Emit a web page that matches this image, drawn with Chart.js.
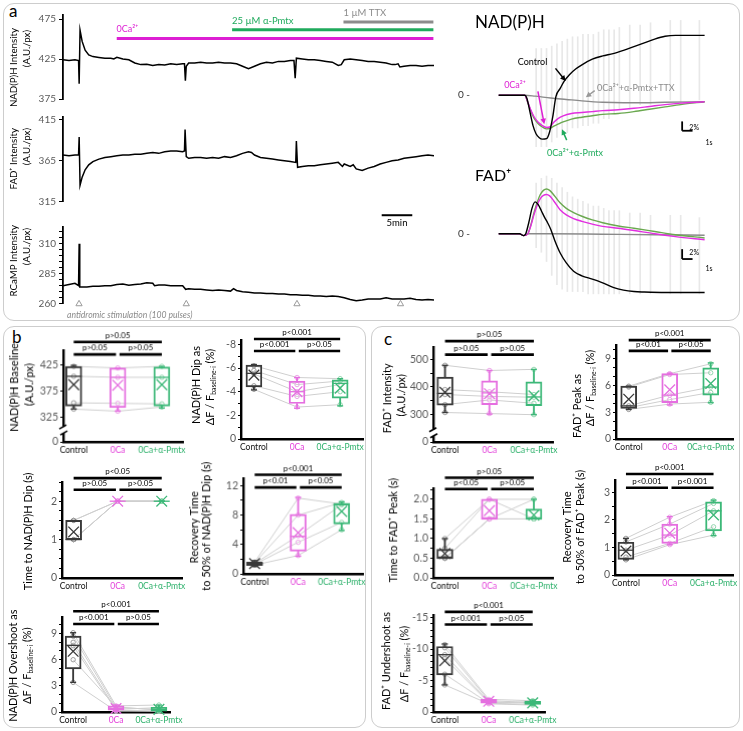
<!DOCTYPE html>
<html><head><meta charset="utf-8"><title>NAD(P)H / FAD+ figure</title>
<script src="https://cdn.jsdelivr.net/npm/chart.js@4.4.1/dist/chart.umd.min.js"></script>
<style>
html,body{margin:0;padding:0;background:#fff}
body{position:relative;width:743px;height:731px;overflow:hidden;font-family:Lato,sans-serif}
canvas{position:absolute}
.panel{position:absolute;border:1.3px solid #cdcdcd;border-radius:11px;box-sizing:border-box}
.plabel{position:absolute;font-family:Lato;font-size:17px;line-height:17px;color:#000}
</style></head><body>
<div class="panel" style="left:3px;top:3px;width:737px;height:318px"></div>
<div class="panel" style="left:3px;top:326px;width:363px;height:402px"></div>
<div class="panel" style="left:371px;top:326px;width:369px;height:402px"></div>
<div class="plabel" style="left:9px;top:2px">a</div>
<div class="plabel" style="left:12px;top:328px">b</div>
<div class="plabel" style="left:384px;top:330px">c</div>
<script>
// ===================== DATA =====================
// ---- panel a, left: example recording (time in min, intensity A.U./px)
const nadTime = [0,1,2,2.6,2.7,2.85,3.2,3.7,4.3,5,6,7,8,8.5,9,10,11,12,13,14,15,16,17,18,19,20,20.3,20.45,20.6,21,22,23,24,25,26,27,28,29,30,31,32,33,34,35,36,37,38,38.6,38.8,39,40,41,42,43,44,45,46,46.5,47,48,49,50,51,52,53,54,55,55.5,56,56.3,57,58,59,60,61,62];
const nadVal  = [424,423,424,423,394,461,447,436,430,428,427,426,426,425,427,425,424,420,418,418.5,417,418,417.5,419,418,419,419,398,416,420,420,421,420,420,421,420,420,419,416,413,416,419,421,420,422,422,423,423,401,426,425,424,424,423,422,421,417,418,424,425,424,423,422,422,421,420,418,418,419,415,416,417,417,416,417,417];
const fadTime = [0,1,2,2.6,2.7,2.85,3.2,3.7,4.3,5,6,7,8,9,10,11,12,13,14,15,16,17,18,19,20,20.3,20.4,20.6,21,22,23,24,25,26,27,28,29,30,31,31.5,32,33,34,35,36,37,38,38.9,39,39.2,40,41,42,43,44,45,46,46.7,47,48,48.5,49,50,51,52,53,54,55,56,57,58,59,60,61,62];
const fadVal  = [372,371,372,372,394,335,345,354,360,364,367,369,370,371,372,372,373,373,374,375,374,376,377,377,376,377,403,370,368,369,369,368,369,368,370,369,371,374,376,375,372,369,368,367,366,365,364,363,389,357,358,359,359,360,361,362,363,358,361,358,360,355,353,356,358,361,363,365,366,368,369,370,371,372,371];
const rcTime  = [0,1,2,2.6,2.7,2.8,4,5,6,7,8,9,10,11,12,13,14,15,15.3,16,17,18,19,20,20.5,21,22,23,24,25,26,27,28,28.5,29,30,31,32,33,34,35,36,37,38,39,40,41,42,43,44,45,46,47,48,49,50,51,52,53,54,55,56,57,58,59,60,61,62];
const rcVal   = [275,276,277,275,310,274,274,274.5,274.5,275,275,276,276.5,275.5,276,276.5,277.5,277,275,275.5,275.5,275,275,275,272,272.5,272,272,271.5,271,271.5,271,270.5,272.5,271,270,269.5,269,269,268.5,268.5,268,268,267.5,267.5,267,267,266.5,266.5,266,266.5,266,265,263.5,262.5,263,264,264,264,265,264,264,264,264.5,263.5,263,263.5,263];
const nadTicks = [375,425,475];
const fadTicks = [315,365,415];
const rcTicks  = [260,265,270,275,280,285,290,295,300,305,310,315,320];
const rcLabels = ['260','','','','','285','','','','','310','',''];
const drugNames  = ['0Ca²⁺','25 µM α-Pmtx','1 µM TTX'];
const drugStart  = [8.98,28.26,46.87];
const drugEnd    = [61.9,61.9,61.9];
const drugLevel  = [450.6,461.5,471.2];
const stimTimes  = [2.68,20.6,39.1,56.4];
const stimLevel  = 259.8;

// ---- panel a, right: averaged transients (time in s, ΔF/F in %)
const nadCtlT = [0,2.5,2.7,3.0,3.3,3.6,3.9,4.2,4.6,4.9,5.2,5.5,5.9,6.3,6.8,7.4,8,9,10,11,12,13,14,15,16,17,18,19.8];
const nadCtl  = [0,0,-0.6,-3.5,-6.5,-8.3,-9.1,-9.4,-9.3,-7.8,-4.6,-0.3,1.4,3.0,4.4,5.6,6.5,7.7,8.4,8.9,9.6,10.4,11.2,12.0,12.6,12.8,12.8,12.8];
const nadDrT  = [0,2.5,2.8,3.1,3.4,3.8,4.2,4.6,4.9,5.3,5.7,6.2,7,8,9,10,11.5,13,14.5,16,17.5,19.8];
const nad0Ca  = [0,0,-1.5,-3.2,-4.6,-5.8,-6.5,-6.9,-6.8,-5.8,-5.0,-4.4,-3.9,-3.7,-3.5,-3.3,-3.1,-2.8,-2.4,-2.0,-1.7,-1.4];
const nadPmtx = [0,0,-1.6,-3.4,-4.9,-6.1,-6.8,-7.2,-7.1,-6.6,-6.2,-5.7,-5.1,-4.7,-4.4,-4.1,-3.9,-3.5,-3.0,-2.5,-2.0,-1.4];
const nadTtxT = [0,2.5,3.5,5,6.5,8,10,12,14,16,19.8];
const nadTtx  = [0,0,-0.2,-0.6,-0.9,-1.2,-1.5,-1.6,-1.6,-1.5,-1.4];
const fadCtlT = [0,2.0,2.4,2.6,2.9,3.2,3.5,3.8,4.1,4.4,4.7,5.0,5.4,5.9,6.5,7.2,8,9,10,11,12,13,14,16,19.8];
const fadCtl  = [0,0,-0.4,0,2.5,5.5,6.9,6.3,5.0,3.6,2.4,1.0,-1.5,-4.1,-6.3,-8.1,-9.1,-9.8,-10.6,-11.6,-12.2,-12.5,-12.6,-12.7,-12.7];
const fadDrT  = [0,2.0,2.4,2.8,3.1,3.4,3.7,4.0,4.3,4.6,4.9,5.3,5.9,6.5,7.2,8,9,10,11.5,13,15,17,19.8];
const fad0Ca  = [0,0,-0.4,0,1.8,4.2,6.2,7.6,8.3,8.5,8.2,7.1,5.2,4.1,3.3,2.7,2.1,1.6,1.2,0.7,0,-0.6,-1.3];
const fadPmtx = [0,0,-0.4,0,2.0,4.6,6.8,8.5,9.4,9.7,9.4,8.4,6.7,5.5,4.6,3.8,3.0,2.4,1.7,1.2,0.5,-0.2,-0.9];
const fadTtxT = [0,2.0,2.4,2.8,5,10,15,19.8];
const fadTtx  = [0,0,-0.4,0,0,-0.1,-0.2,-0.3];
const errT     = [3.6,4.1,4.6,5.1,5.6,6.1,6.6,7.1,7.6,8.1,8.6,9.1,9.6,10.1,10.6,11.1,11.6,12.6,13.6,14.6,16.5,17.5,19.3];
const nadErrLo = [-11,-11,-11,-10,-9,-8,-8,-7,-7,-6.5,-6.5,-6,-6,-5,-5,-4,-3,-3,-2,-2,-1,-2,-1];
const nadErrHi = [10,10,10,10.5,11,11.5,12,12.5,12.5,13,13,13,13.5,14,14,14,14.5,15,15,15.5,16,16,16];
const fadErrLo = [-3,-4,-6,-9,-11,-12,-12.5,-12.5,-12.5,-12.5,-13,-13,-13,-13,-13,-13,-13,-13,-13,-13,-13,-13,-13];
const fadErrHi = [11,12,12.5,12,11,10,9,8,7.5,7,6.5,6,6,5.5,5,5,5,4.5,4.5,4,4,4,3.5];

// ---- panels b / c: summary box plots
const categories = ['Control','0Ca','0Ca+α-Pmtx'];
const catColors  = ['#111111','#e23fd9','#2cb06a'];
const boxColors  = ['#3a3a3a','#e56fe0','#3cb878'];
const pointColors= ['#9a9a9a','#eba3e7','#92d6ae'];

// b1 NAD(P)H baseline (axis broken: bottom tick shown as 0)
const b1WLo=[340,336,342], b1Q1=[346,343,346], b1Med=[403,401,401], b1Q3=[422,419,421], b1WHi=[424,419,422], b1Mean=[387,386,387];
const b1Subj=[[422,419,422],[403,401,401],[352,351,350],[340,336,344]];
const b1Ticks=[277,325,375,425], b1Labels=['0','325','375','425'];
const b1P=['p>0.05','p>0.05','p>0.05'], b1PY=[469,445];
// b2 NAD(P)H dip
const b2WLo=[-6.3,-5.2,-5.1], b2Q1=[-6.25,-4.9,-5.0], b2Med=[-5.55,-4.0,-4.7], b2Q3=[-4.4,-3.0,-3.45], b2WHi=[-4.15,-2.6,-2.8], b2Mean=[-5.4,-4.0,-4.3];
const b2Subj=[[-6.2,-5.2,-5.1],[-5.8,-4.6,-4.9],[-5.5,-4.0,-4.6],[-4.5,-3.6,-4.0],[-4.2,-2.7,-2.9]];
const b2Ticks=[-8,-7,-6,-5,-4,-3,-2,-1,0], b2Labels=['-8','','-6','','-4','','-2','','0'];
const b2P=['p<0.001','p<0.001','p>0.05'], b2PY=[-8.45,-7.44];
// b3 time to NAD(P)H dip
const b3WLo=[1.0,2.0,2.0], b3Q1=[1.0,2.0,2.0], b3Med=[1.0,2.0,2.0], b3Q3=[1.5,2.0,2.0], b3WHi=[1.5,2.0,2.0], b3Mean=[1.2,2.0,2.0];
const b3Subj=[[1.5,2,2],[1.5,2,2],[1,2,2],[1,2,2],[1,2,2]];
const b3Ticks=[0,0.25,0.5,0.75,1,1.25,1.5,1.75,2,2.25,2.5], b3Labels=['0','','','','1','','','','2','',''];
const b3P=['p<0.05','p>0.05','p>0.05'], b3PY=[2.6,2.3];
// b4 recovery time to 50% of NAD(P)H dip
const b4WLo=[1.0,2.4,5.9], b4Q1=[1.15,3.1,6.8], b4Med=[1.4,5.1,9.4], b4Q3=[1.6,8.1,9.6], b4WHi=[1.8,10.4,9.8], b4Mean=[1.4,5.6,8.5];
const b4Subj=[[1.6,10.3,9.5],[1.5,8.0,9.7],[1.4,5.2,9.4],[1.3,4.3,7.0],[1.2,2.5,6.0]];
const b4Ticks=[0,2,4,6,8,10,12], b4Labels=['0','','4','','8','','12'];
const b4P=['p<0.001','p<0.01','p<0.05'], b4PY=[13.47,11.75];
// b5 NAD(P)H overshoot
const b5WLo=[3.4,0.1,0.05], b5Q1=[4.95,0.2,0.1], b5Med=[7.65,0.4,0.3], b5Q3=[8.7,0.7,0.55], b5WHi=[9.1,0.8,0.8], b5Mean=[6.96,0.4,0.3];
const b5Subj=[[9.1,0.7,0.8],[8.7,0.5,0.3],[8.0,0.3,0.5],[7.6,0.2,0.1],[6.0,0.6,0.2],[3.4,0.1,0.1]];
const b5Ticks=[0,1,2,3,4,5,6,7,8,9,10], b5Labels=['0','','','3','','','6','','','9',''];
const b5P=['p<0.001','p<0.001','p>0.05'], b5PY=[11.56,10.1];
// c1 FAD+ intensity (axis broken: bottom tick shown as 0)
const c1WLo=[306,300,298], c1Q1=[333,335,331], c1Med=[376,378,363], c1Q3=[436,422,418], c1WHi=[479,460,464], c1Mean=[380,375,367];
const c1Subj=[[479,460,464],[390,382,372],[372,365,362],[335,352,340],[306,302,298]];
const c1Ticks=[198,300,350,400,450,500], c1Labels=['0','300','','400','','500'];
const c1P=['p>0.05','p>0.05','p>0.05'], c1PY=[567.6,518];
// c2 FAD+ peak
const c2WLo=[3.3,3.8,4.05], c2Q1=[3.42,4.05,4.9], c2Med=[3.7,4.9,5.8], c2Q3=[5.9,7.3,7.95], c2WHi=[5.9,7.35,8.5], c2Mean=[4.45,5.5,6.2];
const c2Subj=[[5.9,7.3,8.4],[5.8,7.2,7.4],[3.7,4.9,5.8],[3.5,4.4,5.2],[3.3,3.9,4.1]];
const c2Ticks=[0,1,2,3,4,5,6,7,8,9,10], c2Labels=['0','','','3','','','6','','','9',''];
const c2P=['p<0.001','p<0.01','p<0.05'], c2PY=[11.04,9.84];
// c3 time to FAD+ peak
const c3WLo=[0.5,1.5,1.5], c3Q1=[0.5,1.5,1.5], c3Med=[0.5,1.5,1.5], c3Q3=[0.73,2.0,1.75], c3WHi=[1.0,2.0,2.0], c3Mean=[0.62,1.71,1.6];
const c3Subj=[[1.0,2.0,2.0],[0.75,2.0,1.5],[0.5,1.5,2.0],[0.5,1.5,1.5],[0.5,1.5,1.5]];
const c3Ticks=[0,0.25,0.5,0.75,1,1.25,1.5,1.75,2,2.25], c3Labels=['0.0','','0.5','','1.0','','1.5','','2.0',''];
const c3P=['p>0.05','p<0.05','p>0.05'], c3PY=[2.55,2.26];
// c4 recovery time to 50% of FAD+ peak
const c4WLo=[0.55,1.1,1.43], c4Q1=[0.57,1.15,1.6], c4Med=[0.9,1.45,2.33], c4Q3=[1.19,1.85,2.66], c4WHi=[1.33,2.12,2.72], c4Mean=[0.87,1.52,2.18];
const c4Subj=[[1.33,2.1,2.7],[1.2,1.85,2.6],[0.9,1.45,2.33],[0.65,1.15,1.75],[0.55,1.1,1.45]];
const c4Ticks=[0,0.5,1,1.5,2,2.5,3], c4Labels=['0','','1','','2','','3'];
const c4P=['p<0.001','p<0.001','p<0.001'], c4PY=[3.67,3.17];
// c5 FAD+ undershoot
const c5WLo=[-10.8,-2.1,-1.9], c5Q1=[-10.4,-2.0,-1.7], c5Med=[-9.1,-1.7,-1.5], c5Q3=[-5.9,-1.4,-1.2], c5WHi=[-4.3,-1.3,-1.1], c5Mean=[-8.15,-1.7,-1.45];
const c5Subj=[[-10.7,-2.0,-1.8],[-10.2,-1.8,-1.5],[-9.1,-1.6,-1.4],[-8.5,-1.5,-1.6],[-6.0,-1.4,-1.2],[-4.3,-1.3,-1.1]];
const c5Ticks=[-15,-14,-13,-12,-11,-10,-9,-8,-7,-6,-5,-4,-3,-2,-1,0], c5Labels=['-15','','','','','-10','','','','','-5','','','','','0'];
const c5P=['p<0.001','p<0.001','p>0.05'], c5PY=[-15.9,-13.9];

// ===================== RENDERING =====================
Chart.defaults.font.family = 'Lato';
Chart.defaults.animation = false;
const MAG='#dd1fd3', GRN='#1faa5c', GRY='#8c8c8c';

function drawRich(ctx, s, x, y, size, color, rot, align, style){
  const segs=[]; const re=/_\{([^}]*)\}/g; let last=0, m;
  while((m=re.exec(s))){ if(m.index>last) segs.push({t:s.slice(last,m.index),sub:false}); segs.push({t:m[1],sub:true}); last=re.lastIndex; }
  if(last<s.length) segs.push({t:s.slice(last),sub:false});
  const f=g=>(style?style+' ':'')+(g.sub?size*0.62:size)+'px Lato';
  let w=0; segs.forEach(g=>{ctx.font=f(g); g.w=ctx.measureText(g.t).width; w+=g.w;});
  ctx.save(); ctx.translate(x,y); ctx.rotate(rot||0); ctx.fillStyle=color; ctx.textBaseline='middle'; ctx.textAlign='left';
  let cx = align==='left'?0:(align==='right'?-w:-w/2);
  segs.forEach(g=>{ctx.font=f(g); ctx.fillText(g.t,cx,g.sub?size*0.3:0); cx+=g.w;});
  ctx.restore();
}

const annot = {
  id:'annot',
  afterDraw(chart, args, o){
    const ctx=chart.ctx, xs=chart.scales.x, ys=chart.scales.y;
    const X=v=>xs.getPixelForValue(v), Y=v=>ys.getPixelForValue(v);
    const ox=o.ox||0, oy=o.oy||0;
    ctx.save();
    (o.lines||[]).forEach(l=>{ctx.strokeStyle=l.color||'#000'; ctx.lineWidth=l.width||1.5; ctx.beginPath(); ctx.moveTo(X(l.x1),Y(l.y1)); ctx.lineTo(X(l.x2),Y(l.y2)); ctx.stroke();});
    (o.arrows||[]).forEach(a=>{
      const x1=X(a.x1),y1=Y(a.y1),x2=X(a.x2),y2=Y(a.y2); const an=Math.atan2(y2-y1,x2-x1), h=5.5, c=Math.cos(an), s=Math.sin(an);
      ctx.strokeStyle=a.color; ctx.fillStyle=a.color; ctx.lineWidth=1.5;
      ctx.beginPath(); ctx.moveTo(x1,y1); ctx.lineTo(x2-c*h*0.7,y2-s*h*0.7); ctx.stroke();
      ctx.beginPath(); ctx.moveTo(x2,y2); ctx.lineTo(x2-h*c+h*0.5*s,y2-h*s-h*0.5*c); ctx.lineTo(x2-h*c-h*0.5*s,y2-h*s+h*0.5*c); ctx.closePath(); ctx.fill();
    });
    (o.brackets||[]).forEach(b=>{
      ctx.strokeStyle='#000'; ctx.lineWidth=2.6; ctx.beginPath(); ctx.moveTo(X(b.x1),Y(b.y)); ctx.lineTo(X(b.x2),Y(b.y)); ctx.stroke();
      drawRich(ctx,b.text,(X(b.x1)+X(b.x2))/2,Y(b.y)-6.5,8,'#000',0,'center','');
    });
    (o.breaks||[]).forEach(v=>{
      const x=chart.chartArea.left, y=Y(v);
      ctx.fillStyle='#fff'; ctx.fillRect(x-3,y-3,6,6);
      ctx.strokeStyle='#000'; ctx.lineWidth=1.6; ctx.beginPath();
      ctx.moveTo(x-4,y-1); ctx.lineTo(x+3,y-5); ctx.moveTo(x-3,y+5); ctx.lineTo(x+4,y+1); ctx.stroke();
    });
    (o.texts||[]).forEach(t=>drawRich(ctx,t.text,t.x-ox,t.y-oy,t.size||9,t.color||'#000',t.rot||0,t.align||'center',t.style||''));
    ctx.restore();
  }
};
Chart.register(annot);

function placeCanvas(b){
  const c=document.createElement('canvas');
  c.width=b.w; c.height=b.h;
  c.style.left=b.x+'px'; c.style.top=b.y+'px'; c.style.width=b.w+'px'; c.style.height=b.h+'px';
  document.body.appendChild(c); return c;
}
function padFor(b,a,yw,xh){ return {left:a.l-b.x-yw, top:a.t-b.y, right:b.x+b.w-a.r, bottom:b.y+b.h-a.b-xh}; }
const pts=(xs,ys)=>xs.map((x,i)=>({x:x,y:ys[i]}));
const ROT=-Math.PI/2;

// ---------- left traces ----------
function traceChart(box, area, yMin, yMax, ticks, labels, datasets, texts, lines){
  const YW=30;
  return new Chart(placeCanvas(box), {
    type:'line',
    data:{datasets:datasets},
    options:{responsive:false, events:[], layout:{padding:padFor(box,area,YW,0)},
      scales:{
        x:{type:'linear',min:0,max:62,display:false},
        y:{type:'linear',min:yMin,max:yMax,bounds:'data',
           afterBuildTicks:s=>{s.ticks=ticks.map(v=>({value:v}));},
           afterFit:s=>{s.width=YW;},
           ticks:{autoSkip:false,padding:3,color:'#5a5a5a',font:{size:10},callback:(v,i)=>labels[i]},
           grid:{display:true,drawOnChartArea:false,drawTicks:true,tickLength:4,color:'#000',lineWidth:1},
           border:{display:true,color:'#000',width:1.8}}
      },
      plugins:{legend:{display:false},tooltip:{enabled:false},annot:{ox:box.x,oy:box.y,texts:texts,lines:lines||[]}}
    }
  });
}
const traceStyle={borderColor:'#000',borderWidth:1.5,pointRadius:0,tension:0,fill:false};

// NAD(P)H left
traceChart({x:0,y:0,w:445,h:108},{l:63,t:15,r:434,b:100.7},375,480,nadTicks,nadTicks.map(String),
  [Object.assign({data:pts(nadTime,nadVal)},traceStyle),
   ...drugNames.map((n,i)=>({data:[{x:drugStart[i],y:drugLevel[i]},{x:drugEnd[i],y:drugLevel[i]}],borderColor:[MAG,GRN,GRY][i],borderWidth:3,pointRadius:0}))],
  [{text:'NAD(P)H Intensity',x:14,y:28,size:9.7,rot:ROT,align:'right'},
   {text:'(A.U./px)',x:27,y:30,size:9.7,rot:ROT,align:'right'},
   {text:drugNames[0],x:116.5,y:29,size:9,color:MAG,align:'left'},
   {text:drugNames[1],x:232,y:20.5,size:9.5,color:GRN,align:'left'},
   {text:drugNames[2],x:343.5,y:12.5,size:9.5,color:GRY,align:'left'}]);

// FAD+ left (with 5 min scale bar)
traceChart({x:0,y:108,w:445,h:122},{l:63,t:117.3,r:434,b:201.7},315,418,fadTicks,fadTicks.map(String),
  [Object.assign({data:pts(fadTime,fadVal)},traceStyle)],
  [{text:'FAD⁺ Intensity',x:14,y:128,size:9.7,rot:ROT,align:'right'},
   {text:'(A.U./px)',x:27,y:128,size:9.7,rot:ROT,align:'right'},
   {text:'5min',x:397,y:223,size:9.5}],
  [{x1:53.26,x2:58.37,y1:298.5,y2:298.5,width:2,color:'#000'}]);

// RCaMP left (with stimulation markers)
traceChart({x:0,y:218,w:445,h:104},{l:63,t:224,r:434,b:303.7},260,324,rcTicks,rcLabels,
  [Object.assign({data:pts(rcTime,rcVal)},traceStyle),
   {type:'scatter',data:stimTimes.map(t=>({x:t,y:stimLevel})),pointStyle:'triangle',pointRadius:3.6,pointBorderColor:'#9a9a9a',pointBackgroundColor:'rgba(255,255,255,0)',pointBorderWidth:1,clip:false}],
  [{text:'RCaMP Intensity',x:14,y:225,size:9.7,rot:ROT,align:'right'},
   {text:'(A.U./px)',x:27,y:228,size:9.7,rot:ROT,align:'right'},
   {text:'antidromic stimulation (100 pulses)',x:67,y:315,size:8.6,color:'#8a8a8a',align:'left',style:'italic'}]);

// ---------- right averaged transients ----------
function transientChart(box, area, yMin, yMax, datasets, texts, lines, arrows){
  const YW=28;
  return new Chart(placeCanvas(box), {
    type:'line', data:{datasets:datasets},
    options:{responsive:false, events:[], layout:{padding:padFor(box,area,YW,0)},
      scales:{
        x:{type:'linear',min:0,max:19.77,display:false},
        y:{type:'linear',min:yMin,max:yMax,bounds:'data',
           afterBuildTicks:s=>{s.ticks=[{value:0}];}, afterFit:s=>{s.width=YW;},
           ticks:{padding:3,color:'#333',font:{size:10},callback:()=>'0 -'},
           grid:{display:false,drawTicks:false}, border:{display:false}}
      },
      plugins:{legend:{display:false},tooltip:{enabled:false},annot:{ox:box.x,oy:box.y,texts:texts,lines:lines,arrows:arrows}}
    }
  });
}
const tr=(xs,ys,c,o)=>({data:pts(xs,ys),borderColor:c,borderWidth:1.4,pointRadius:0,cubicInterpolationMode:'monotone',order:o});
const err=(lo,hi)=>({type:'bar',data:errT.map((t,i)=>({x:t,y:[lo[i],hi[i]]})),backgroundColor:'#e8e8e8',barThickness:1,order:10});

transientChart({x:445,y:3,w:298,h:162},{l:473,t:8,r:730,b:162},-13,17.8,
  [err(nadErrLo,nadErrHi), tr(nadTtxT,nadTtx,'#8a8a8a',5), tr(nadDrT,nadPmtx,'#6aa84f',4), tr(nadDrT,nad0Ca,'#e22ee0',3), tr(nadCtlT,nadCtl,'#000',2)],
  [{text:'NAD(P)H',x:475,y:23,size:17,align:'left'},
   {text:'Control',x:532.5,y:62,size:9},
   {text:'0Ca²⁺',x:515,y:85,size:9,color:MAG},
   {text:'0Ca²⁺+α-Pmtx+TTX',x:597,y:88.5,size:9,color:GRY,align:'left'},
   {text:'0Ca²⁺+α-Pmtx',x:575,y:153,size:9,color:GRN},
   {text:'2%',x:699,y:128,size:7,align:'right'},
   {text:'1s',x:709,y:143,size:7}],
  [{x1:17.64,y1:-5.6,x2:17.64,y2:-7.6,width:1.8},{x1:17.64,y1:-7.6,x2:18.64,y2:-7.6,width:1.8}],
  [{x1:5.46,y1:5.74,x2:6.44,y2:3.06,color:'#000'},{x1:3.77,y1:0.8,x2:4.38,y2:-6.2,color:MAG},
   {x1:9.23,y1:1.0,x2:8.38,y2:-0.46,color:'#999'},{x1:6.54,y1:-9.6,x2:6.08,y2:-7.3,color:GRN}]);

transientChart({x:445,y:165,w:298,h:140},{l:473,t:168,r:730,b:300},-13.46,12.94,
  [err(fadErrLo,fadErrHi), tr(fadTtxT,fadTtx,'#8a8a8a',5), tr(fadDrT,fadPmtx,'#6aa84f',4), tr(fadDrT,fad0Ca,'#e22ee0',3), tr(fadCtlT,fadCtl,'#000',2)],
  [{text:'FAD⁺',x:475,y:176,size:16,align:'left'},
   {text:'2%',x:699,y:253,size:7,align:'right'},
   {text:'1s',x:709,y:269,size:7}],
  [{x1:17.64,y1:-3.32,x2:17.64,y2:-5.46,width:1.8},{x1:17.64,y1:-5.46,x2:18.64,y2:-5.46,width:1.8}],
  []);

// ---------- box plots ----------
function boxPlot(c){
  const a=c.area, box={x:a.l-62, y:a.t-36, w:Math.min(743,a.r+14)-(a.l-62), h:a.b+20-(a.t-36)};
  const YW=24, XH=16, idx=[1,2,3];
  const ds=[];
  c.subj.forEach(s=>ds.push({type:'line',data:s.map((v,i)=>({x:idx[i],y:v})),borderColor:'#cfcfcf',borderWidth:1,pointRadius:2.2,pointStyle:'circle',pointBorderColor:pointColors,pointBackgroundColor:'rgba(255,255,255,0)',pointBorderWidth:1,order:10,clip:false}));
  ds.push({type:'bar',data:c.wLo.map((v,i)=>({x:idx[i],y:[v,c.q1[i]]})),backgroundColor:boxColors,barThickness:1.2,grouped:false,order:6});
  ds.push({type:'bar',data:c.wHi.map((v,i)=>({x:idx[i],y:[c.q3[i],v]})),backgroundColor:boxColors,barThickness:1.2,grouped:false,order:6});
  ds.push({type:'bar',data:c.q1.map((v,i)=>({x:idx[i],y:[v,c.q3[i]]})),backgroundColor:'rgba(0,0,0,0)',borderColor:boxColors,borderWidth:1.3,borderSkipped:false,barThickness:16,grouped:false,order:5});
  ds.push({type:'scatter',data:[...c.wLo.map((v,i)=>({x:idx[i],y:v})),...c.wHi.map((v,i)=>({x:idx[i],y:v}))],pointStyle:'line',pointRadius:3,pointBorderColor:[...boxColors,...boxColors],pointBorderWidth:1.3,order:4,clip:false});
  ds.push({type:'scatter',data:c.med.map((v,i)=>({x:idx[i],y:v})),pointStyle:'line',pointRadius:8,pointBorderColor:boxColors,pointBorderWidth:1.3,order:3,clip:false});
  ds.push({type:'scatter',data:c.mean.map((v,i)=>({x:idx[i],y:v})),pointStyle:'crossRot',pointRadius:7.5,pointBorderColor:boxColors,pointBorderWidth:1.3,order:2,clip:false});
  const br=[{x1:1,x2:3,y:c.py[0],text:c.p[0]},{x1:1,x2:1.96,y:c.py[1],text:c.p[1]},{x1:2.04,x2:3,y:c.py[1],text:c.p[2]}];
  return new Chart(placeCanvas(box), {
    type:'bar', data:{datasets:ds},
    options:{responsive:false, events:[], layout:{padding:padFor(box,a,YW,XH)},
      scales:{
        x:{type:'linear',min:c.x[0],max:c.x[1],offset:false,bounds:'data',
           afterBuildTicks:s=>{s.ticks=idx.map(v=>({value:v}));}, afterFit:s=>{s.height=XH;},
           ticks:{autoSkip:false,maxRotation:0,minRotation:0,padding:3,font:{size:8.5},color:ctx=>catColors[ctx.index],callback:(v,i)=>categories[i]},
           grid:{display:false,drawTicks:false,tickLength:0}, border:{display:true,color:'#000',width:2.4}},
        y:{type:'linear',min:c.y[0],max:c.y[1],reverse:!!c.reverse,bounds:'data',
           afterBuildTicks:s=>{s.ticks=c.ticks.map(v=>({value:v}));}, afterFit:s=>{s.width=YW;},
           ticks:{autoSkip:false,padding:2,color:'#5a5a5a',font:{size:10.5},callback:(v,i)=>c.labels[i]},
           grid:{display:true,drawOnChartArea:false,drawTicks:true,tickLength:3,color:'#000',lineWidth:1},
           border:{display:true,color:'#000',width:2.4}}
      },
      plugins:{legend:{display:false},tooltip:{enabled:false},
        annot:{ox:box.x,oy:box.y,brackets:br,breaks:c.breaks||[],texts:c.titles.map(t=>Object.assign({size:11,rot:ROT},t))}}
    }
  });
}

boxPlot({area:{l:63.3,t:350,r:183,b:441.7},x:[0.764,3.48],y:[277,453],ticks:b1Ticks,labels:b1Labels,
  wLo:b1WLo,q1:b1Q1,med:b1Med,q3:b1Q3,wHi:b1WHi,mean:b1Mean,subj:b1Subj,p:b1P,py:b1PY,breaks:[300],
  titles:[{text:'NAD(P)H Baseline',x:15,y:387},{text:'(A.U./px)',x:30,y:384}]});
boxPlot({area:{l:241,t:340,r:363,b:439},x:[0.70,3.53],y:[-8.37,0],reverse:true,ticks:b2Ticks,labels:b2Labels,
  wLo:b2WLo,q1:b2Q1,med:b2Med,q3:b2Q3,wHi:b2WHi,mean:b2Mean,subj:b2Subj,p:b2P,py:b2PY,
  titles:[{text:'NAD(P)H Dip as',x:196,y:385},{text:'ΔF / F_{baseline-i} (%)',x:210,y:387}]});
boxPlot({area:{l:61.7,t:481.7,r:182,b:577.7},x:[0.736,3.46],y:[0,2.5],ticks:b3Ticks,labels:b3Labels,
  wLo:b3WLo,q1:b3Q1,med:b3Med,q3:b3Q3,wHi:b3WHi,mean:b3Mean,subj:b3Subj,p:b3P,py:b3PY,
  titles:[{text:'Time to NAD(P)H Dip (s)',x:28,y:531}]});
boxPlot({area:{l:243.3,t:478.3,r:363,b:574.3},x:[0.74,3.49],y:[0,13],ticks:b4Ticks,labels:b4Labels,
  wLo:b4WLo,q1:b4Q1,med:b4Med,q3:b4Q3,wHi:b4WHi,mean:b4Mean,subj:b4Subj,p:b4P,py:b4PY,
  titles:[{text:'Recovery Time',x:195,y:527},{text:'to 50% of NAD(P)H Dip (s)',x:207,y:526}]});
boxPlot({area:{l:62.3,t:617.3,r:173.3,b:712.3},x:[0.74,3.27],y:[0,10.9],ticks:b5Ticks,labels:b5Labels,
  wLo:b5WLo,q1:b5Q1,med:b5Med,q3:b5Q3,wHi:b5WHi,mean:b5Mean,subj:b5Subj,p:b5P,py:b5PY,
  titles:[{text:'NAD(P)H Overshoot as',x:14,y:666},{text:'ΔF / F_{baseline-i} (%)',x:28,y:666}]});
boxPlot({area:{l:433.3,t:346.7,r:553,b:442.3},x:[0.737,3.43],y:[198,546],ticks:c1Ticks,labels:c1Labels,
  wLo:c1WLo,q1:c1Q1,med:c1Med,q3:c1Q3,wHi:c1WHi,mean:c1Mean,subj:c1Subj,p:c1P,py:c1PY,breaks:[232],
  titles:[{text:'FAD⁺ Intensity',x:388,y:398},{text:'(A.U./px)',x:402,y:395}]});
boxPlot({area:{l:616,t:345,r:736.7,b:439},x:[0.69,3.56],y:[0,10.5],ticks:c2Ticks,labels:c2Labels,
  wLo:c2WLo,q1:c2Q1,med:c2Med,q3:c2Q3,wHi:c2WHi,mean:c2Mean,subj:c2Subj,p:c2P,py:c2PY,
  titles:[{text:'FAD⁺ Peak as',x:577,y:406},{text:'ΔF / F_{baseline-i} (%)',x:590,y:388}]});
boxPlot({area:{l:433.3,t:488.3,r:553,b:577.7},x:[0.74,3.43],y:[0,2.28],ticks:c3Ticks,labels:c3Labels,
  wLo:c3WLo,q1:c3Q1,med:c3Med,q3:c3Q3,wHi:c3WHi,mean:c3Mean,subj:c3Subj,p:c3P,py:c3PY,
  titles:[{text:'Time to FAD⁺ Peak (s)',x:394,y:530}]});
boxPlot({area:{l:615,t:480,r:735,b:575},x:[0.75,3.46],y:[0,3.45],ticks:c4Ticks,labels:c4Labels,
  wLo:c4WLo,q1:c4Q1,med:c4Med,q3:c4Q3,wHi:c4WHi,mean:c4Mean,subj:c4Subj,p:c4P,py:c4PY,
  titles:[{text:'Recovery Time',x:567,y:527},{text:'to 50% of FAD⁺ Peak (s)',x:580,y:527}]});
boxPlot({area:{l:433.3,t:615,r:546.7,b:712.3},x:[0.74,3.3],y:[-15.4,0],reverse:true,ticks:c5Ticks,labels:c5Labels,
  wLo:c5WLo,q1:c5Q1,med:c5Med,q3:c5Q3,wHi:c5WHi,mean:c5Mean,subj:c5Subj,p:c5P,py:c5PY,
  titles:[{text:'FAD⁺ Undershoot as',x:387,y:661},{text:'ΔF / F_{baseline-i} (%)',x:405,y:664}]});
</script>
</body></html>
